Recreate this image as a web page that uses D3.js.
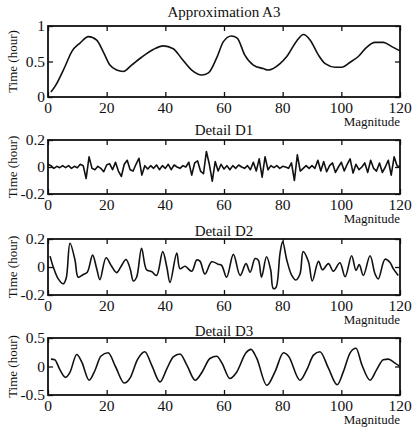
<!DOCTYPE html>
<html>
<head>
<meta charset="utf-8">
<script src="https://cdn.jsdelivr.net/npm/d3@7"></script>
<style>
  body { margin: 0; background: #fff; }
  svg { display: block; }
</style>
</head>
<body>
<div id="chart"></div>
<script>
// ---- data ----
var xTicks = [0, 20, 40, 60, 80, 100, 120];

// Approximation A3 : [magnitude, time]
var approxA3 = [[1,0.07],[2.4,0.15],[5.8,0.43],[8.1,0.64],[10.9,0.76],[13.8,0.85],[16.6,0.8],[18.8,0.64],
  [21.1,0.45],[23.4,0.38],[25.7,0.36],[28.5,0.45],[31.9,0.56],[35.9,0.67],[39.3,0.72],[42.7,0.68],
  [45.6,0.54],[49,0.38],[52.4,0.31],[54.7,0.34],[57.5,0.55],[59.8,0.78],[62.5,0.86],[64.5,0.83],
  [67.1,0.59],[70,0.45],[73.4,0.4],[75.1,0.38],[79.1,0.47],[81.4,0.57],[84.8,0.79],[87.1,0.88],
  [89.4,0.8],[92.2,0.59],[94.5,0.47],[97.9,0.42],[100.1,0.42],[103,0.49],[105.8,0.57],[108.6,0.7],
  [111.5,0.77],[114.3,0.77],[117.2,0.71],[120,0.65]];

// Detail D1 : one value per magnitude step 0..120
var detailD1 = [0.02,0.01,-0.01,0.005,-0.005,0.01,-0.005,0.01,-0.01,0.005,
  -0.005,0.02,0.01,-0.085,0.075,-0.01,-0.02,0.005,-0.01,-0.035,
  0.015,0.025,-0.02,0.035,-0.03,-0.07,0.02,0.05,-0.02,-0.03,
  0.02,0.065,-0.06,0.01,-0.015,0.01,-0.01,0.015,-0.02,0.01,
  -0.01,0.02,-0.02,0.015,0,-0.01,0.01,0,0.035,-0.06,
  0.03,0.045,-0.03,-0.05,0.115,0.02,-0.105,0.04,-0.03,0.02,
  -0.015,0.01,-0.02,0.01,-0.01,0.015,0,-0.01,0.01,-0.02,
  0.035,-0.03,0.06,-0.075,0.075,-0.02,0.01,-0.005,0.01,-0.01,
  0.005,0,-0.01,0.03,-0.1,0.09,-0.03,-0.01,0.01,-0.01,
  0.01,-0.01,0.05,-0.03,0.04,-0.035,0.01,0.03,-0.04,0,
  0.035,-0.03,0.02,0.06,-0.045,0.02,-0.02,0,0.03,-0.04,
  0.05,-0.01,-0.03,0.03,-0.04,0,0.05,-0.06,0.075,0.01,0];

// Detail D2 : [magnitude, time]
var detailD2 = [[0.7,0.078],[1.8,0],[3.5,-0.085],[5.2,-0.12],[6.2,-0.08],[7.5,0.17],[9.2,0.05],[10.3,-0.073],
  [12,-0.054],[13.4,-0.037],[15.2,0.085],[16.6,-0.012],[17.7,-0.09],[19.8,0.066],[21.7,0.005],[23.4,-0.04],
  [24.8,0],[26.6,0.054],[28,-0.012],[29.1,-0.1],[30.2,-0.073],[31.9,0.134],[33.6,-0.02],[35.3,-0.032],
  [37,-0.06],[39.1,0.11],[40.5,0],[41.6,-0.11],[43.9,0.1],[45,-0.012],[46.7,0.005],[49,-0.03],
  [50.7,0.05],[51.8,0.042],[53.5,-0.05],[55.8,0.037],[58,0.02],[59.2,0.012],[60.9,-0.073],[63.2,0.09],
  [65.5,-0.06],[67.5,0.024],[68.9,-0.037],[70.6,0.06],[71.7,0.048],[72.8,-0.073],[74.5,0.073],[75.9,-0.02],
  [76.8,-0.154],[77.7,-0.147],[79.1,0.098],[80,0.18],[81.4,0.05],[83.1,-0.06],[84.5,-0.093],[85.9,-0.05],
  [87,0.11],[88.8,0.037],[90.1,-0.1],[92.2,0.04],[93.6,-0.02],[95.6,0.024],[97.3,-0.03],[99.5,0.03],
  [101.3,-0.07],[103.5,0.08],[105,-0.024],[106.1,0.017],[107.5,-0.06],[109.8,0.08],[111.5,-0.05],[112.6,-0.085],
  [114.9,0.056],[116.6,0.032],[117.7,-0.012],[119.4,-0.06]];

// Detail D3 : [magnitude, time]
var detailD3 = [[1,0.13],[2.3,0.12],[4,-0.05],[6,-0.19],[7.5,-0.1],[9.8,0.21],[11.5,0.08],[14,-0.24],
  [16,-0.07],[18,0.18],[20.5,0.24],[23,0],[26,-0.29],[28,-0.2],[30.5,0.12],[33,0.26],[35.3,0.03],
  [38.2,-0.27],[40.5,-0.04],[42.7,0.17],[45,0.22],[47.3,0.03],[50.2,-0.24],[52.5,-0.1],[55.2,0.14],
  [57.5,0.18],[59.3,0.06],[62,-0.21],[64.3,-0.1],[67.5,0.24],[69.2,0.3],[71.1,0.15],[74.6,-0.33],
  [77.4,-0.09],[80.3,0.24],[82,0.18],[85.9,-0.24],[88.2,-0.06],[90.5,0.2],[92.7,0.26],[95.6,-0.03],
  [98.6,-0.32],[100.7,-0.09],[103,0.24],[105,0.32],[107,0.03],[109.8,-0.24],[112,-0.06],[114.3,0.12],
  [116,0.13],[118.3,0.06],[120,0]];

var titles = ["Approximation A3", "Detail D1", "Detail D2", "Detail D3"];
var yDomains = [[0, 1], [-0.2, 0.2], [-0.2, 0.2], [-0.5, 0.5]];
var yTickSets = [[0, 0.5, 1], [-0.2, 0, 0.2], [-0.2, 0, 0.2], [-0.5, 0, 0.5]];

// ---- layout ----
var width = 416, height = 428;
var left = 48, right = 400;
var serif = "'Liberation Serif', 'Times New Roman', Times, serif";
var panels = [
  {top: 26, bottom: 97, titleY: 17, curve: d3.curveMonotoneX, data: approxA3},
  {top: 140, bottom: 194, titleY: 135, curve: d3.curveLinear, data: detailD1.map(function(v, i) { return [i, v]; })},
  {top: 239, bottom: 295, titleY: 236, curve: d3.curveCatmullRom, data: detailD2},
  {top: 338, bottom: 395, titleY: 336, curve: d3.curveMonotoneX, data: detailD3}
];

var svg = d3.select("#chart").append("svg")
  .attr("width", width)
  .attr("height", height)
  .attr("font-family", serif);

var xScale = d3.scaleLinear().domain([0, 120]).range([left, right]);

panels.forEach(function(p, k) {
  var yScale = d3.scaleLinear().domain(yDomains[k]).range([p.bottom, p.top]);
  var g = svg.append("g");

  // line
  var line = d3.line()
    .curve(p.curve)
    .x(function(d) { return xScale(d[0]); })
    .y(function(d) { return yScale(d[1]); });

  g.append("path")
    .datum(p.data)
    .attr("d", line)
    .style("fill", "none")
    .style("stroke", "#111")
    .style("stroke-width", 1.6)
    .style("stroke-linejoin", "round");

  // axes (inward ticks, no default labels)
  var bottomAxis = d3.axisBottom(xScale).tickValues(xTicks).tickSizeInner(-5).tickSizeOuter(0).tickFormat("");
  var topAxis = d3.axisTop(xScale).tickValues(xTicks).tickSizeInner(-5).tickSizeOuter(0).tickFormat("");
  var leftAxis = d3.axisLeft(yScale).tickValues(yTickSets[k]).tickSizeInner(-5).tickSizeOuter(0).tickFormat("");
  var rightAxis = d3.axisRight(yScale).tickValues(yTickSets[k]).tickSizeInner(-5).tickSizeOuter(0).tickFormat("");

  [[bottomAxis, "translate(0," + p.bottom + ")"],
   [topAxis, "translate(0," + p.top + ")"],
   [leftAxis, "translate(" + left + ",0)"],
   [rightAxis, "translate(" + right + ",0)"]].forEach(function(a) {
    var ax = g.append("g").attr("transform", a[1]).call(a[0]);
    ax.select(".domain").remove();
    ax.selectAll("line").style("stroke", "#111").style("stroke-width", 1.3);
  });

  // frame
  g.append("rect")
    .attr("x", left)
    .attr("y", p.top)
    .attr("width", right - left)
    .attr("height", p.bottom - p.top)
    .style("fill", "none")
    .style("stroke", "#111")
    .style("stroke-width", 1.8);

  // tick labels
  g.selectAll(".xlab")
    .data(xTicks)
    .enter()
    .append("text")
    .attr("x", function(d) { return xScale(d); })
    .attr("y", p.bottom + 16)
    .attr("text-anchor", "middle")
    .attr("font-family", serif)
    .style("font-size", "15.5px")
    .style("fill", "#111")
    .text(function(d) { return d; });

  g.selectAll(".ylab")
    .data(yTickSets[k])
    .enter()
    .append("text")
    .attr("x", left - 3)
    .attr("y", function(d) { return yScale(d) + 5; })
    .attr("text-anchor", "end")
    .attr("font-family", serif)
    .style("font-size", "15.5px")
    .style("fill", "#111")
    .text(function(d) { return d; });

  // title
  g.append("text")
    .attr("x", (left + right) / 2)
    .attr("y", p.titleY)
    .attr("text-anchor", "middle")
    .attr("font-family", serif)
    .style("font-size", "15px")
    .style("fill", "#111")
    .text(titles[k]);

  // x label
  g.append("text")
    .attr("x", right)
    .attr("y", p.bottom + 29)
    .attr("text-anchor", "end")
    .attr("font-family", serif)
    .style("font-size", "13px")
    .style("fill", "#111")
    .text("Magnitude");

  // y label
  g.append("text")
    .attr("transform", "rotate(-90)")
    .attr("x", -(p.top + p.bottom) / 2)
    .attr("y", 17)
    .attr("text-anchor", "middle")
    .attr("font-family", serif)
    .style("font-size", "13px")
    .style("fill", "#111")
    .text("Time (hour)");
});
</script>
</body>
</html>
